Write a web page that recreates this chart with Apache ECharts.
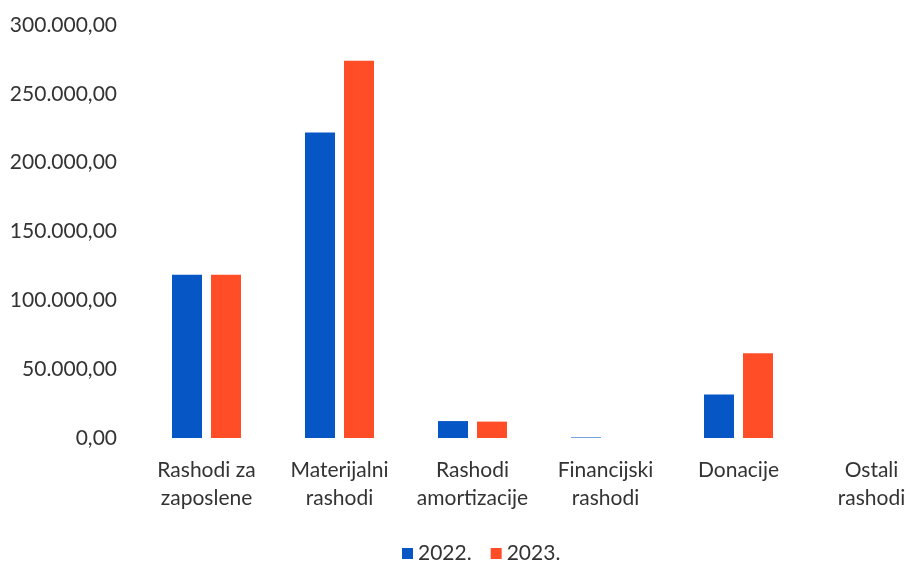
<!DOCTYPE html>
<html>
<head>
<meta charset="utf-8">
<script src="https://cdn.jsdelivr.net/npm/echarts@6/dist/echarts.min.js"></script>
<style>
html,body{margin:0;padding:0;background:#fff;}
#chart{width:910px;height:564px;}
</style>
</head>
<body>
<div id="chart"></div>
<script>
const categories = ["Rashodi za\nzaposlene", "Materijalni\nrashodi", "Rashodi\namortizacije", "Financijski\nrashodi", "Donacije", "Ostali\nrashodi"];
const seriesNames = ["2022.", "2023."];
const values2022 = [118500, 222000, 12300, 400, 31600, 0];
const values2023 = [118500, 274000, 11900, 0, 61500, 0];
const yTicks = [0, 50000, 100000, 150000, 200000, 250000, 300000];

const FONT = "Lato";
const TXT = "#333333";

function fmt(v) {
  const parts = v.toFixed(2).split(".");
  const intPart = parts[0].replace(/\B(?=(\d{3})+(?!\d))/g, ".");
  return intPart + "," + parts[1];
}

const chart = echarts.init(document.getElementById("chart"), null, {renderer: "canvas"});
chart.setOption({
  animation: false,
  backgroundColor: "#ffffff",
  grid: {left: 140, right: -28, top: 25, bottom: 126, containLabel: false, outerBoundsMode: "none"},
  legend: {
    data: seriesNames,
    bottom: -5,
    left: 397,
    itemWidth: 11, itemHeight: 11, itemGap: 19,
    icon: "rect",
    textStyle: {fontFamily: FONT, fontSize: 21, color: TXT}
  },
  xAxis: {
    type: "category",
    data: categories,
    axisLine: {show: false},
    axisTick: {show: false},
    axisLabel: {fontFamily: FONT, fontSize: 21, color: TXT, lineHeight: 28, margin: 18, interval: 0, hideOverlap: false}
  },
  yAxis: {
    type: "value",
    min: yTicks[0], max: yTicks[yTicks.length - 1], interval: 50000,
    splitLine: {show: false},
    axisLine: {show: false},
    axisTick: {show: false},
    axisLabel: {fontFamily: FONT, fontSize: 21, color: TXT, margin: 23, formatter: fmt}
  },
  series: [
    {name: seriesNames[0], type: "bar", data: values2022, barWidth: 30, barGap: "30%", itemStyle: {color: "#0656C6"}},
    {name: seriesNames[1], type: "bar", data: values2023, barWidth: 30, itemStyle: {color: "#FF4D28"}}
  ]
});
</script>
</body>
</html>
